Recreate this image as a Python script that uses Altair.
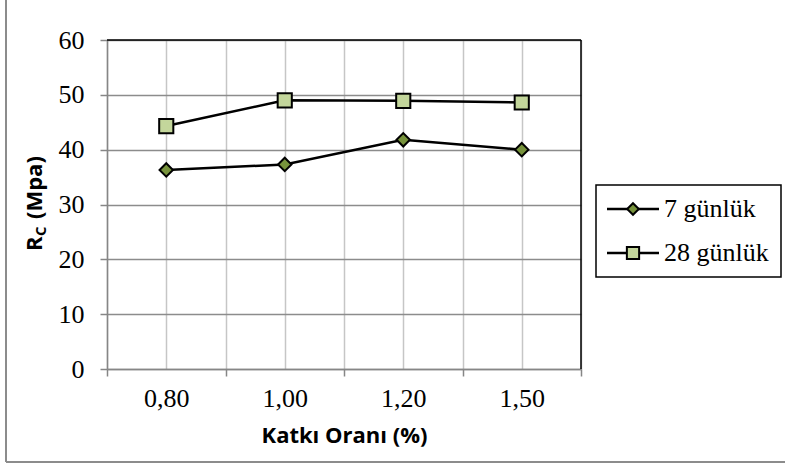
import altair as alt
import pandas as pd

categories = ["0,80", "1,00", "1,20", "1,50"]
series_names = ["7 günlük", "28 günlük"]
values_7 = [36.3, 37.3, 41.8, 40.0]
values_28 = [44.3, 49.0, 48.9, 48.6]
y_ticks = [0, 10, 20, 30, 40, 50, 60]

W, H = 474, 329
SERIF = "'Times New Roman', 'Liberation Serif', serif"
SANS = "'Open Sans', sans-serif"
rows = []
for i, c in enumerate(categories):
    rows.append({"pos": i + 0.5, "cat": c, "series": series_names[0], "value": values_7[i]})
    rows.append({"pos": i + 0.5, "cat": c, "series": series_names[1], "value": values_28[i]})
df = pd.DataFrame(rows)

fills = {series_names[0]: "#77933C", series_names[1]: "#C3D69B"}
shapes = {series_names[0]: "diamond", series_names[1]: "square"}
sizes = {series_names[0]: 180, series_names[1]: 200}

label_arr = "[" + ",".join("'" + c + "'" for c in categories) + "]"
xvals = [k * 0.5 for k in range(0, 2 * len(categories) + 1)]

x_enc = alt.X(
    "pos:Q",
    scale=alt.Scale(domain=[0, len(categories)], nice=False, zero=False),
    axis=alt.Axis(
        values=xvals,
        labelExpr=f"(datum.value % 1 == 0.5) ? {label_arr}[floor(datum.value)] : ''",
        grid=True, gridColor="#c6c6c6", gridWidth=1.5,
        tickColor="#868686", tickSize=7, tickWidth=1.5,
        tickOpacity={"expr": "datum.value % 1 == 0 ? 1 : 0"},
        domainColor="#868686", domainWidth=1.5,
        labelFont=SERIF, labelFontSize=26, labelColor="black",
        labelPadding=9,
        title="Katkı Oranı (%)", titleFont=SANS, titleFontSize=22,
        titleFontWeight="bold", titleColor="black", titlePadding=14,
    ),
)
y_enc = alt.Y(
    "value:Q",
    scale=alt.Scale(domain=[0, 60], nice=False),
    axis=alt.Axis(
        values=y_ticks, grid=True, gridColor="#8c8c8c", gridWidth=1.5,
        tickColor="#868686", tickSize=7, tickWidth=1.5,
        domainColor="#868686", domainWidth=1.5,
        labelFont=SERIF, labelFontSize=26, labelColor="black",
        labelPadding=16, title=None,
    ),
)

base = alt.Chart(df)
layers = []
for s in series_names:
    sub = base.transform_filter(alt.datum.series == s)
    layers.append(sub.mark_line(color="black", strokeWidth=2.5).encode(x=x_enc, y=y_enc))
for s in series_names:
    sub = base.transform_filter(alt.datum.series == s)
    layers.append(
        sub.mark_point(shape=shapes[s], filled=True, fill=fills[s], stroke="black",
                       strokeWidth=2, size=sizes[s], opacity=1).encode(x=x_enc, y=y_enc)
    )

one = alt.Chart(pd.DataFrame({"a": [0]}))
# plot area top & right border
layers.append(one.mark_rule(color="black", strokeWidth=1.5).encode(
    x=alt.value(0), x2=alt.value(W), y=alt.value(0)))
layers.append(one.mark_rule(color="black", strokeWidth=1.5).encode(
    x=alt.value(W), y=alt.value(0), y2=alt.value(H)))
# outer chart border (left & bottom visible)
layers.append(one.mark_rule(color="#8c8c8c", strokeWidth=2).encode(
    x=alt.value(-101), y=alt.value(-45), y2=alt.value(422)))
layers.append(one.mark_rule(color="#8c8c8c", strokeWidth=2).encode(
    x=alt.value(-101), x2=alt.value(690), y=alt.value(422)))

# y-axis title with subscript
ty = 211
layers.append(one.mark_text(text="R", font=SANS, fontWeight="bold", fontSize=22,
                            angle=270, align="left", baseline="middle", color="black").encode(
    x=alt.value(-72), y=alt.value(ty)))
layers.append(one.mark_text(text="C", font=SANS, fontWeight="bold", fontSize=15,
                            angle=270, align="left", baseline="middle", color="black").encode(
    x=alt.value(-66), y=alt.value(ty - 15)))
layers.append(one.mark_text(text="(Mpa)", font=SANS, fontWeight="bold", fontSize=22,
                            angle=270, align="left", baseline="middle", color="black").encode(
    x=alt.value(-72), y=alt.value(ty - 32)))

# legend
layers.append(one.mark_rect(fill="white", stroke="black", strokeWidth=1.5).encode(
    x=alt.value(489), x2=alt.value(674), y=alt.value(145), y2=alt.value(237)))
leg_y = [169, 213]
for s, ly in zip(series_names, leg_y):
    ld = pd.DataFrame({"series": [s]})
    lc = alt.Chart(ld)
    layers.append(lc.mark_rule(color="black", strokeWidth=2.5).encode(
        x=alt.value(500), x2=alt.value(552), y=alt.value(ly)))
    layers.append(lc.mark_point(shape=shapes[s], filled=True, fill=fills[s], stroke="black",
                                strokeWidth=2, size=sizes[s] * 0.75, opacity=1).encode(
        x=alt.value(526), y=alt.value(ly)))
    layers.append(lc.mark_text(font=SERIF, fontSize=26, align="left",
                               baseline="middle", color="black").encode(
        text="series:N", x=alt.value(557), y=alt.value(ly)))

chart = alt.layer(*layers).properties(
    width=W, height=H,
    padding={"left": 107, "top": 40, "right": 785 - 107 - W, "bottom": 468 - 40 - H},
    autosize=alt.AutoSizeParams(type="none"),
    background="white",
).configure_view(stroke=None)

chart.save("out.html", embed_options={"renderer": "svg", "actions": False})
